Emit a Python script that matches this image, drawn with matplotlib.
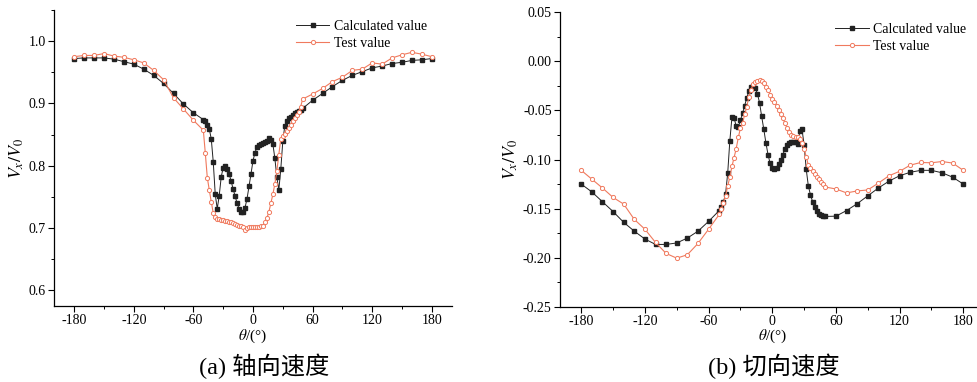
import matplotlib
matplotlib.use('Agg')
import matplotlib.pyplot as plt
from matplotlib.ticker import MultipleLocator

plt.rcParams['font.family'] = ['Liberation Serif', 'Noto Sans CJK SC']
plt.rcParams['mathtext.fontset'] = 'stix'
plt.rcParams['axes.unicode_minus'] = False

# ---- (a) axial velocity ----
theta_a_calc = ([-180, -170, -160, -150, -140, -130, -120, -110, -100, -90, -80, -70, -60]
                + list(range(-50, 52, 2))
                + [60, 70, 80, 90, 100, 110, 120, 130, 140, 150, 160, 170, 180])
vx_a_calc = [0.972, 0.973, 0.973, 0.973, 0.971, 0.967, 0.963, 0.955, 0.945, 0.932, 0.916, 0.899, 0.885,
             0.874, 0.871, 0.866, 0.859, 0.843, 0.806, 0.754, 0.731, 0.752, 0.782,
             0.797, 0.799, 0.795, 0.787, 0.775, 0.763, 0.751, 0.740, 0.731, 0.726,
             0.725, 0.733, 0.747, 0.767, 0.787, 0.808, 0.821, 0.830, 0.834, 0.835,
             0.836, 0.838, 0.840, 0.844, 0.841, 0.835, 0.812, 0.782, 0.761, 0.795,
             0.839, 0.864, 0.872, 0.876, 0.879, 0.881, 0.884, 0.886, 0.888, 0.890, 0.892,
             0.905, 0.916, 0.927, 0.937, 0.945, 0.951, 0.957, 0.960, 0.964, 0.966, 0.969, 0.970, 0.972]

theta_a_test = theta_a_calc
vx_a_test = [0.975, 0.977, 0.977, 0.980, 0.976, 0.974, 0.970, 0.965, 0.953, 0.938, 0.909, 0.891, 0.873,
             0.857, 0.820, 0.781, 0.761, 0.742, 0.724, 0.718, 0.715, 0.714, 0.713,
             0.713, 0.712, 0.711, 0.710, 0.709, 0.708, 0.706, 0.705, 0.704, 0.703,
             0.702, 0.697, 0.700, 0.701, 0.702, 0.702, 0.702, 0.702, 0.702, 0.703,
             0.703, 0.709, 0.716, 0.726, 0.740, 0.754, 0.771, 0.791, 0.818, 0.843,
             0.848, 0.851, 0.856, 0.860, 0.866, 0.871, 0.876, 0.881, 0.887, 0.895, 0.907,
             0.915, 0.924, 0.935, 0.942, 0.953, 0.955, 0.965, 0.963, 0.973, 0.978, 0.982, 0.979, 0.975]

# ---- (b) tangential velocity ----
theta_b = theta_a_calc
vt_b_calc = [-0.125, -0.133, -0.143, -0.153, -0.164, -0.173, -0.181, -0.1865, -0.1865, -0.185, -0.180, -0.173, -0.163,
             -0.152, -0.148, -0.143, -0.135, -0.114, -0.081, -0.057, -0.0575, -0.066, -0.067,
             -0.060, -0.053, -0.045, -0.037, -0.030, -0.026, -0.025, -0.027, -0.033, -0.042,
             -0.056, -0.069, -0.083, -0.095, -0.104, -0.109, -0.110, -0.109, -0.105, -0.100,
             -0.095, -0.089, -0.085, -0.083, -0.082, -0.082, -0.082, -0.084, -0.071, -0.069,
             -0.085, -0.110, -0.127, -0.136, -0.143, -0.148, -0.152, -0.155, -0.157, -0.158, -0.158,
             -0.1577, -0.152, -0.145, -0.137, -0.129, -0.122, -0.1165, -0.113, -0.111, -0.111, -0.1135, -0.118, -0.125]
vt_b_test = [-0.111, -0.120, -0.129, -0.1386, -0.1454, -0.161, -0.171, -0.1845, -0.1957, -0.2005, -0.197, -0.1855, -0.171,
             -0.156, -0.150, -0.144, -0.137, -0.127, -0.118, -0.107, -0.098, -0.089, -0.0775,
             -0.068, -0.063, -0.054, -0.046, -0.036, -0.029, -0.023, -0.021, -0.020, -0.019,
             -0.020, -0.022, -0.026, -0.029, -0.034, -0.038, -0.041, -0.045, -0.050, -0.054,
             -0.058, -0.063, -0.068, -0.072, -0.075, -0.076, -0.077, -0.0775, -0.0795, -0.0836,
             -0.0897, -0.097, -0.106, -0.109, -0.112, -0.115, -0.1176, -0.120, -0.1227, -0.125, -0.128,
             -0.130, -0.134, -0.132, -0.131, -0.124, -0.1165, -0.112, -0.1057, -0.103, -0.1033, -0.102, -0.1036, -0.111]

x_ticks = [-180, -120, -60, 0, 60, 120, 180]
calc_color = '#222222'
test_color = '#f07a5e'

fig = plt.figure(figsize=(9.77, 3.82), dpi=100)
ax1 = fig.add_axes([0.0556, 0.199, 0.4067, 0.775])
ax2 = fig.add_axes([0.5732, 0.197, 0.4345, 0.7707])


def style_axis(ax, ylim, ymajor, yminor, yfmt):
    ax.set_xlim(-200, 200)
    ax.set_ylim(*ylim)
    ax.set_xticks(x_ticks)
    ax.xaxis.set_minor_locator(MultipleLocator(30))
    ax.yaxis.set_major_locator(MultipleLocator(ymajor))
    ax.yaxis.set_minor_locator(MultipleLocator(yminor))
    ax.yaxis.set_major_formatter(plt.FormatStrFormatter(yfmt))
    for s in ['top', 'right']:
        ax.spines[s].set_visible(False)
    for s in ['left', 'bottom']:
        ax.spines[s].set_linewidth(0.9)
    ax.tick_params(which='major', direction='out', length=4, width=0.8, labelsize=10, pad=2)
    ax.tick_params(which='minor', direction='out', length=2.5, width=0.7)
    ax.set_xlabel(r'$\theta$/(°)', fontsize=11, labelpad=0)
    ax.set_ylabel(r'$V_x/V_0$', fontsize=13, labelpad=2)


ax1.plot(theta_a_calc, vx_a_calc, '-s', color=calc_color, lw=0.7, ms=2.6, label='Calculated value')
ax1.plot(theta_a_test, vx_a_test, '-o', color=test_color, lw=0.8, ms=3.0, mfc='white', mew=0.7,
         label='Test value')
style_axis(ax1, (0.575, 1.05), 0.1, 0.05, '%.1f')
ax1.legend(loc='upper left', bbox_to_anchor=(0.303, 0.948), bbox_transform=fig.transFigure,
           frameon=False, fontsize=10, borderpad=0, borderaxespad=0, handlelength=2.4,
           handletextpad=0.3, labelspacing=0.3)

ax2.plot(theta_b, vt_b_calc, '-s', color=calc_color, lw=0.7, ms=2.6, label='Calculated value')
ax2.plot(theta_b, vt_b_test, '-o', color=test_color, lw=0.8, ms=3.0, mfc='white', mew=0.7,
         label='Test value')
style_axis(ax2, (-0.25, 0.05), 0.05, 0.025, '%.2f')
ax2.legend(loc='upper left', bbox_to_anchor=(0.855, 0.94), bbox_transform=fig.transFigure,
           frameon=False, fontsize=10, borderpad=0, borderaxespad=0, handlelength=2.4,
           handletextpad=0.3, labelspacing=0.3)

fig.text(0.270, 0.04, '(a) 轴向速度', ha='center', va='center', fontsize=17.5)
fig.text(0.792, 0.04, '(b) 切向速度', ha='center', va='center', fontsize=17.5)

fig.savefig('out.png', dpi=100)
